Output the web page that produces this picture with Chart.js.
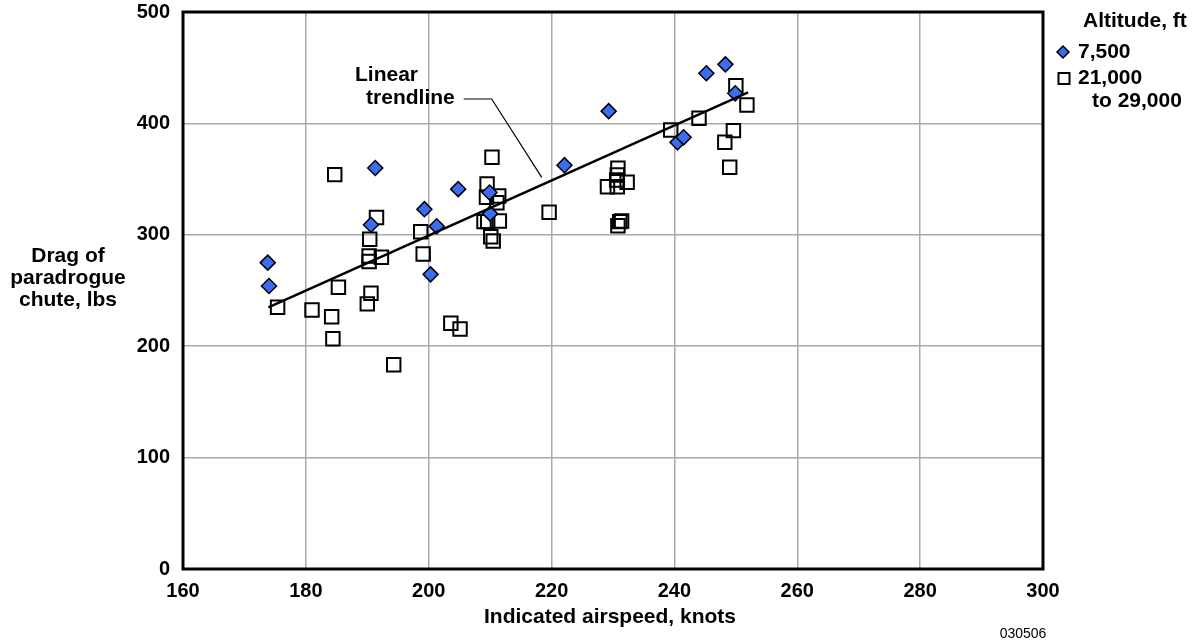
<!DOCTYPE html>
<html>
<head>
<meta charset="utf-8">
<script src="https://cdn.jsdelivr.net/npm/chart.js@4.4.1/dist/chart.umd.min.js"></script>
<style>
  html, body { margin: 0; padding: 0; background: #fff; }
  #wrap { width: 1194px; height: 641px; position: relative; }
</style>
</head>
<body>
<div id="wrap"><canvas id="chart"></canvas></div>
<script>
// ---- Data ----
// 7,500 ft runs (blue diamonds)
const lowAltX = [173.8, 174.0, 190.6, 191.3, 199.3, 200.3, 201.3, 204.8, 209.9, 210.0, 222.1, 229.3, 240.5, 241.5, 245.2, 248.3, 249.9];
const lowAltY = [275, 254, 309, 360, 323, 264.5, 307.6, 341, 338, 319, 362.5, 411, 383, 387.5, 445, 453, 427];

// 21,000 to 29,000 ft runs (open squares)
const highAltX = [175.4, 181.0, 184.2, 184.4, 185.3, 184.7, 194.3, 190.4, 190.3, 190.3, 192.3, 190.6, 190.0, 191.5,
                  199.1, 198.7, 203.6, 205.1, 210.3, 209.5, 209.4, 211.4, 211.1, 209.0, 209.6, 211.5, 210.1, 210.5,
                  219.6, 230.8, 230.7, 230.6, 229.1, 230.7, 232.3, 231.1, 230.8, 231.4, 239.4, 244.0, 250.0, 251.8,
                  249.6, 248.2, 249.0];
const highAltY = [234.9, 232.5, 226.5, 206.7, 252.9, 354, 183.4, 296, 281, 276, 279.8, 247.5, 238, 315.5,
                  282.8, 302.8, 220.6, 215.4, 369.6, 345.6, 333.7, 334.8, 328.8, 311.8, 311.8, 312.4, 298.3, 294.4,
                  320.2, 359.7, 353.7, 349.2, 343.2, 343.2, 347.1, 311.8, 308.2, 312.4, 394.1, 404.6, 433.9, 416.5,
                  393.5, 383.0, 360.6];

// Linear trendline end points
const trendX = [173.9, 252.0];
const trendY = [234.9, 427.9];

// Callout leader for the trendline label
const leaderX = [205.7, 210.25, 218.4];
const leaderY = [421.9, 421.9, 351.6];
const noteLines = ['Linear', 'trendline'];
const noteX = [188.0, 189.8];
const noteY = [443.4, 422.8];

const yTitleLines = ['Drag of', 'paradrogue', 'chute, lbs'];
const xTitle = 'Indicated airspeed, knots';
const legendTitle = 'Altitude, ft';
const legendLabels = ['7,500', '21,000', 'to 29,000'];
const figureId = '030506';

const FONT = '"Liberation Sans", Arial, Helvetica, sans-serif';
const BLUE = '#3b6cf2';
const GRID = '#a9a9a9';

const toPoints = (xs, ys) => xs.map((x, i) => ({ x, y: ys[i] }));

// ---- Frame, titles, callout text and legend ----
const overlay = {
  id: 'overlay',
  beforeDatasetsDraw(chart) {
    const { ctx, chartArea: a } = chart;
    ctx.save();
    ctx.strokeStyle = '#000';
    ctx.lineWidth = 3;
    ctx.strokeRect(a.left, a.top, a.right - a.left, a.bottom - a.top);
    ctx.restore();
  },
  afterDraw(chart) {
    const { ctx } = chart;
    const { x, y } = chart.scales;
    ctx.save();
    ctx.fillStyle = '#000';
    ctx.font = `bold 21px ${FONT}`;
    ctx.textBaseline = 'middle';

    // axis titles
    ctx.textAlign = 'center';
    yTitleLines.forEach((t, i) => ctx.fillText(t, 68, 256 + i * 22));
    ctx.fillText(xTitle, 610, 617);

    // trendline callout
    ctx.textAlign = 'left';
    noteLines.forEach((t, i) => ctx.fillText(t, x.getPixelForValue(noteX[i]), y.getPixelForValue(noteY[i])));

    // legend
    ctx.fillText(legendTitle, 1083, 21);
    ctx.fillText(legendLabels[0], 1078, 52);
    ctx.fillText(legendLabels[1], 1078, 78);
    ctx.fillText(legendLabels[2], 1092, 101);

    // diamond marker
    ctx.beginPath();
    ctx.moveTo(1057, 52); ctx.lineTo(1063, 46); ctx.lineTo(1069, 52); ctx.lineTo(1063, 58);
    ctx.closePath();
    ctx.fillStyle = BLUE; ctx.fill();
    ctx.lineWidth = 1.5; ctx.strokeStyle = '#000'; ctx.stroke();
    // square marker
    ctx.lineWidth = 2;
    ctx.strokeRect(1058.5, 73, 11, 11);

    // figure number
    ctx.fillStyle = '#000';
    ctx.font = `14px ${FONT}`;
    ctx.textAlign = 'center';
    ctx.fillText(figureId, 1023, 634);
    ctx.restore();
  }
};

new Chart(document.getElementById('chart'), {
  type: 'scatter',
  data: {
    datasets: [
      {
        label: 'Linear trendline',
        data: toPoints(trendX, trendY),
        showLine: true,
        borderColor: '#000',
        borderWidth: 2.5,
        pointRadius: 0,
        order: 0,
      },
      {
        label: 'callout',
        data: toPoints(leaderX, leaderY),
        showLine: true,
        borderColor: '#000',
        borderWidth: 1.2,
        pointRadius: 0,
        order: 0,
      },
      {
        label: '7,500',
        data: toPoints(lowAltX, lowAltY),
        pointStyle: 'rectRot',
        pointRadius: 7.5,
        backgroundColor: BLUE,
        borderColor: '#000',
        borderWidth: 1.5,
        order: 1,
      },
      {
        label: '21,000 to 29,000',
        data: toPoints(highAltX, highAltY),
        pointStyle: 'rect',
        pointRadius: 9.5,
        backgroundColor: 'rgba(0,0,0,0)',
        borderColor: '#000',
        borderWidth: 2,
        order: 2,
      },
    ],
  },
  options: {
    responsive: true,
    maintainAspectRatio: false,
    animation: false,
    events: [],
    layout: { padding: { left: 0, right: 151, top: 0, bottom: 0 } },
    scales: {
      x: {
        type: 'linear',
        min: 160,
        max: 300,
        afterFit: s => { s.height = 72; },
        border: { display: false },
        grid: { color: GRID, lineWidth: 1.5, drawTicks: false },
        ticks: { stepSize: 20, padding: 10, color: '#000', font: { family: FONT, size: 20, weight: 'bold' } },
      },
      y: {
        min: 0,
        max: 500,
        // fixed axis box so the plot frame lands where the reference has it
        afterFit: s => { s.width = 183; s.paddingTop = 12; s.paddingBottom = 0; },
        border: { display: false },
        grid: { color: GRID, lineWidth: 1.5, drawTicks: false },
        ticks: { stepSize: 100, padding: 13, color: '#000', font: { family: FONT, size: 20, weight: 'bold' } },
      },
    },
    plugins: {
      legend: { display: false },
      tooltip: { enabled: false },
    },
  },
  plugins: [overlay],
});
</script>
</body>
</html>
